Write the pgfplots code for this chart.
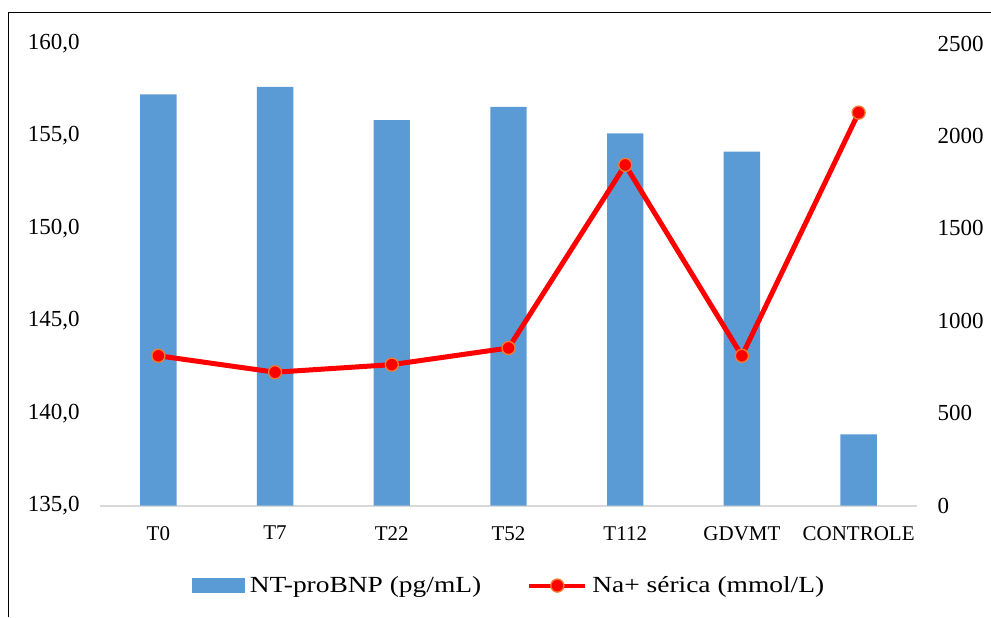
\documentclass[border=0pt]{standalone}
\usepackage{pgfplots}
\pgfplotsset{compat=1.18}
\usepackage{fontspec}
\setmainfont{Liberation Serif}
\newfontfamily\legfont[FakeStretch=1.19]{Liberation Serif}
\definecolor{barblue}{HTML}{5B9BD5}
\definecolor{mkorange}{HTML}{ED7D31}
\definecolor{axgray}{HTML}{D9D9D9}
\pgfplotsset{
  barlegend/.style={legend image code/.code={\fill[barblue] (0pt,-5.25pt) rectangle (39pt,5.25pt);}},
  linelegend/.style={legend image code/.code={%
    \draw[red, line width=3pt] (0pt,0pt) -- (42pt,0pt);
    \draw[red, line width=1pt, fill=red, draw=mkorange] (21pt,0pt) circle (4.9pt);}},
}
\begin{document}
\begin{tikzpicture}
\useasboundingbox (0,0) rectangle (743.25pt,462.75pt);
\draw[line width=1pt] (6.2pt,0pt) -- (6.2pt,453.2pt) -- (743.25pt,453.2pt);
\begin{axis}[
  at={(75pt,83.475pt)}, anchor=south west, scale only axis,
  width=612.75pt, height=346.65pt,
  xmin=-0.5, xmax=6.5, ymin=135, ymax=160,
  axis x line*=bottom, axis y line*=left,
  x axis line style={draw=axgray, line width=1.5pt, -},
  y axis line style={draw=none},
  xtick={0,...,6},
  xticklabels={T0,T7,T22,T52,T112,GDVMT,CONTROLE},
  ytick={135,140,145,150,155,160},
  major tick length=0pt, tick style={draw=none},
  x tick label style={font=\fontsize{15.75}{18}\selectfont, inner sep=0pt, anchor=north},
  xticklabel shift=15.2pt,
  y tick label style={font=\fontsize{17.25}{20}\selectfont, inner sep=0pt,
    /pgf/number format/.cd, fixed, fixed zerofill, precision=1, use comma, assume math mode=true},
  yticklabel shift=15pt,
  clip=false,
]
\addplot[ybar, bar width=27.3pt, fill=barblue, draw=none] coordinates {
  (0,157.25) (1,157.66) (2,155.85) (3,156.57) (4,155.14) (5,154.15) (6,138.86)};
\end{axis}
\begin{axis}[
  at={(75pt,83.475pt)}, anchor=south west, scale only axis,
  width=612.75pt, height=346.65pt,
  xmin=-0.5, xmax=6.5, ymin=0, ymax=2500,
  axis x line=none, axis y line*=right,
  y axis line style={draw=none},
  ytick={0,500,1000,1500,2000,2500},
  major tick length=0pt, tick style={draw=none},
  y tick label style={font=\fontsize{17.25}{20}\selectfont, inner sep=0pt,
    /pgf/number format/.cd, fixed, 1000 sep={}, assume math mode=true},
  yticklabel shift=15.2pt,
  clip=false,
  legend columns=2,
  legend style={at={(0.1126,-0.1728)}, anchor=west, draw=none, fill=none,
    inner sep=0pt, font=\legfont\fontsize{17.3}{20}\selectfont,
    nodes={inner sep=0pt},
    /tikz/every odd column/.append style={column sep=3.75pt},
    /tikz/every even column/.append style={column sep=34.5pt}},
]
\addlegendimage{barlegend}
\addlegendentry{NT-proBNP (pg/mL)}
\addplot[red, line width=3.75pt, mark=*, mark size=4.9pt,
  mark options={fill=red, draw=mkorange, line width=1pt}, linelegend]
  coordinates {(0,811) (1,722) (2,763) (3,853) (4,1843) (5,811) (6,2126)};
\addlegendentry{Na+ sérica (mmol/L)}
\end{axis}
\end{tikzpicture}
\end{document}
